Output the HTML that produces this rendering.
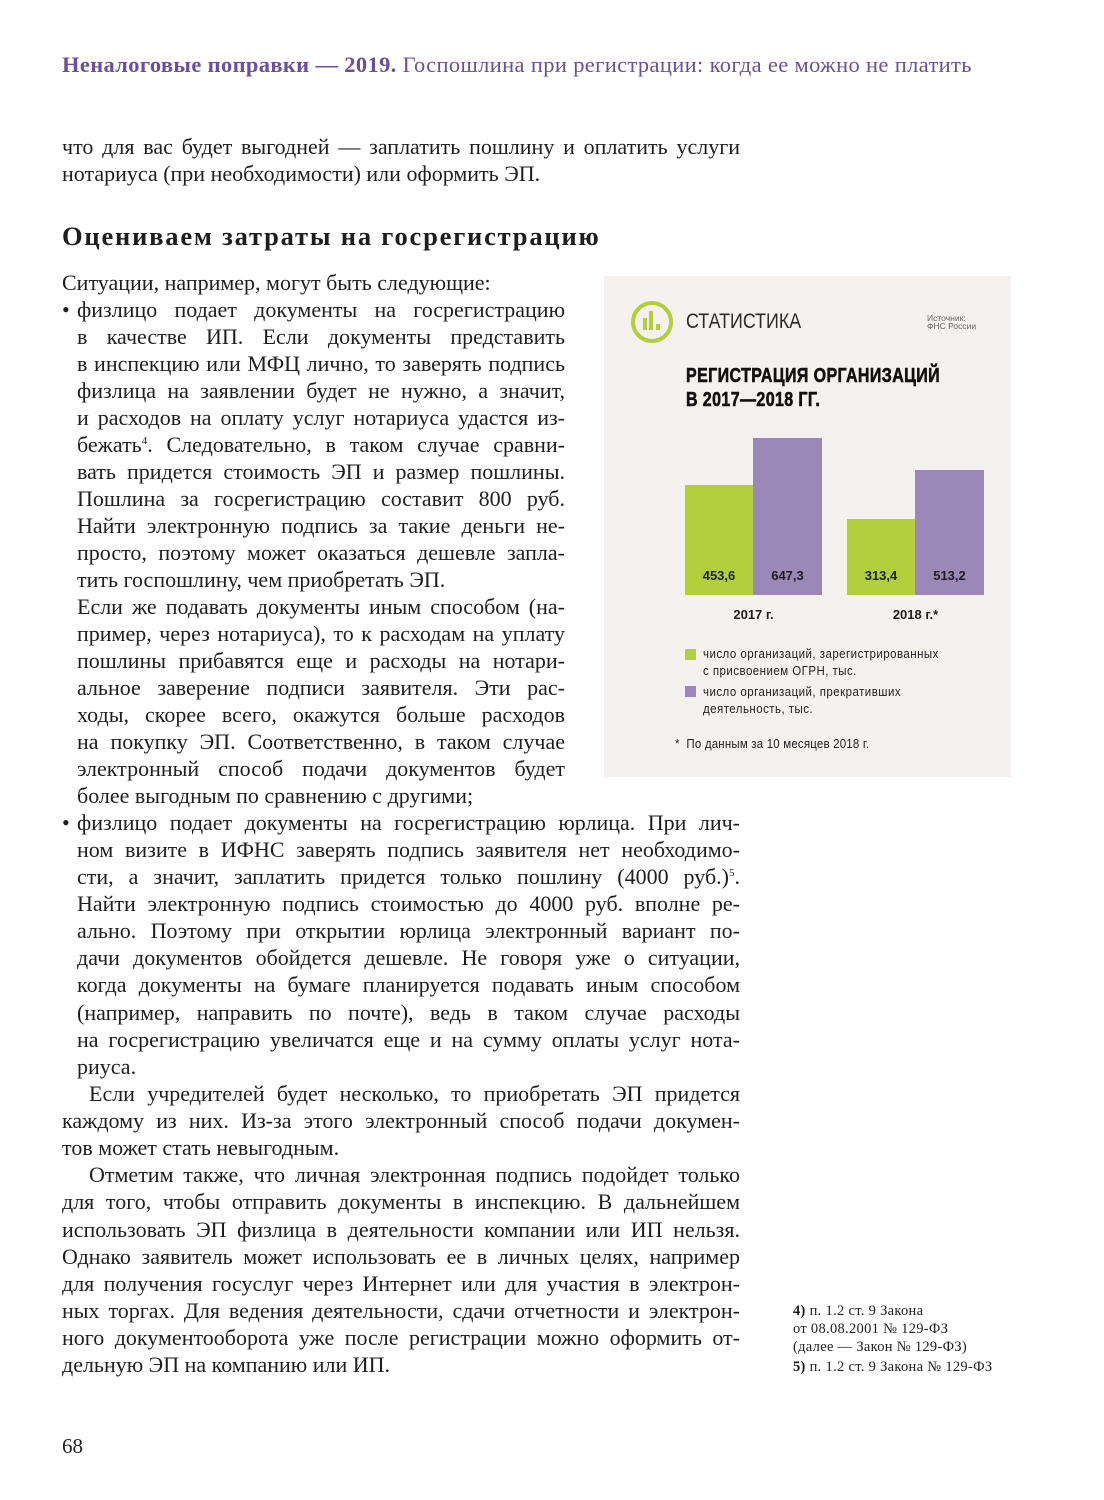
<!DOCTYPE html>
<html><head><meta charset="utf-8">
<style>
*{margin:0;padding:0}
body{width:1104px;height:1500px;background:#fff;position:relative;overflow:hidden;font-family:"Liberation Serif","DejaVu Serif",serif;color:#1e1e1e}
.l{position:absolute;height:27px;line-height:27px;font-size:22px;text-align:justify;text-align-last:justify;overflow:hidden;white-space:normal}
.e{text-align-last:left}
.w{left:62px;width:678px}
.n{left:77px;width:488px}
.m{left:77px;width:663px}
.b{position:absolute;left:62px;font-size:22px;line-height:27px}
.s{font-family:"Liberation Sans Narrow","Liberation Sans",sans-serif;position:absolute}
.sp{font-size:11px;position:relative;top:-8px;line-height:0}
</style></head><body>
<div style="position:absolute;left:62px;top:52px;font-size:22.5px;color:#6a4fa0;white-space:nowrap;letter-spacing:0.35px"><b>Неналоговые поправки — 2019.</b> Госпошлина при регистрации: когда ее можно не платить</div>

<div class="l w" style="top:133px">что для вас будет выгодней — заплатить пошлину и оплатить услуги</div>
<div class="l w e" style="top:160px">нотариуса (при необходимости) или оформить ЭП.</div>

<div style="position:absolute;left:62px;top:221px;font-size:26.5px;font-weight:bold;white-space:nowrap;letter-spacing:1.8px">Оцениваем затраты на госрегистрацию</div>

<div class="l w e" style="top:269px">Ситуации, например, могут быть следующие:</div>
<div class="b" style="top:296px">•</div>
<div class="l n" style="top:296px">физлицо подает документы на госрегистрацию</div>
<div class="l n" style="top:323px">в качестве ИП. Если документы представить</div>
<div class="l n" style="top:350px">в инспекцию или МФЦ лично, то заверять подпись</div>
<div class="l n" style="top:377px">физлица на заявлении будет не нужно, а значит,</div>
<div class="l n" style="top:404px">и расходов на оплату услуг нотариуса удастся из-</div>
<div class="l n" style="top:431px">бежать<span class="sp">4</span>. Следовательно, в таком случае сравни-</div>
<div class="l n" style="top:458px">вать придется стоимость ЭП и размер пошлины.</div>
<div class="l n" style="top:485px">Пошлина за госрегистрацию составит 800 руб.</div>
<div class="l n" style="top:512px">Найти электронную подпись за такие деньги не-</div>
<div class="l n" style="top:539px">просто, поэтому может оказаться дешевле запла-</div>
<div class="l n e" style="top:566px">тить госпошлину, чем приобретать ЭП.</div>
<div class="l n" style="top:593px">Если же подавать документы иным способом (на-</div>
<div class="l n" style="top:620px">пример, через нотариуса), то к расходам на уплату</div>
<div class="l n" style="top:647px">пошлины прибавятся еще и расходы на нотари-</div>
<div class="l n" style="top:674px">альное заверение подписи заявителя. Эти рас-</div>
<div class="l n" style="top:701px">ходы, скорее всего, окажутся больше расходов</div>
<div class="l n" style="top:728px">на покупку ЭП. Соответственно, в таком случае</div>
<div class="l n" style="top:755px">электронный способ подачи документов будет</div>
<div class="l n e" style="top:782px">более выгодным по сравнению с другими;</div>
<div class="b" style="top:809px">•</div>
<div class="l m" style="top:809px">физлицо подает документы на госрегистрацию юрлица. При лич-</div>
<div class="l m" style="top:836px">ном визите в ИФНС заверять подпись заявителя нет необходимо-</div>
<div class="l m" style="top:863px">сти, а значит, заплатить придется только пошлину (4000 руб.)<span class="sp">5</span>.</div>
<div class="l m" style="top:890px">Найти электронную подпись стоимостью до 4000 руб. вполне ре-</div>
<div class="l m" style="top:917px">ально. Поэтому при открытии юрлица электронный вариант по-</div>
<div class="l m" style="top:944px">дачи документов обойдется дешевле. Не говоря уже о ситуации,</div>
<div class="l m" style="top:971px">когда документы на бумаге планируется подавать иным способом</div>
<div class="l m" style="top:999px">(например, направить по почте), ведь в таком случае расходы</div>
<div class="l m" style="top:1026px">на госрегистрацию увеличатся еще и на сумму оплаты услуг нота-</div>
<div class="l m e" style="top:1053px">риуса.</div>
<div class="l" style="top:1080px;left:89px;width:651px">Если учредителей будет несколько, то приобретать ЭП придется</div>
<div class="l w" style="top:1107px">каждому из них. Из-за этого электронный способ подачи докумен-</div>
<div class="l w e" style="top:1134px">тов может стать невыгодным.</div>
<div class="l" style="top:1161px;left:89px;width:651px">Отметим также, что личная электронная подпись подойдет только</div>
<div class="l w" style="top:1188px">для того, чтобы отправить документы в инспекцию. В дальнейшем</div>
<div class="l w" style="top:1216px">использовать ЭП физлица в деятельности компании или ИП нельзя.</div>
<div class="l w" style="top:1243px">Однако заявитель может использовать ее в личных целях, например</div>
<div class="l w" style="top:1270px">для получения госуслуг через Интернет или для участия в электрон-</div>
<div class="l w" style="top:1297px">ных торгах. Для ведения деятельности, сдачи отчетности и электрон-</div>
<div class="l w" style="top:1324px">ного документооборота уже после регистрации можно оформить от-</div>
<div class="l w e" style="top:1351px">дельную ЭП на компанию или ИП.</div>

<div style="position:absolute;left:793px;top:1302px;font-size:14.5px;line-height:18px;white-space:nowrap;letter-spacing:0.3px"><b>4)</b> п. 1.2 ст. 9 Закона<br>от 08.08.2001 № 129-ФЗ<br>(далее — Закон № 129-ФЗ)<br><div style="margin-top:2px"><b>5)</b> п. 1.2 ст. 9 Закона № 129-ФЗ</div></div>

<div style="position:absolute;left:62px;top:1434px;font-size:21px">68</div>

<!-- stats box -->
<div style="position:absolute;left:604px;top:276px;width:407px;height:501px;background:#f4f1ee"></div>
<div style="position:absolute;left:631px;top:301px;width:34px;height:34px;border:4px solid #b2cf3b;border-radius:50%"></div>
<div style="position:absolute;left:643px;top:318px;width:4px;height:12px;background:#b2cf3b"></div>
<div style="position:absolute;left:649px;top:311px;width:4px;height:19px;background:#b2cf3b"></div>
<div style="position:absolute;left:656px;top:324px;width:4px;height:6px;background:#b2cf3b"></div>
<div class="s" style="left:686px;top:310px;font-size:21px;color:#2a2a2a;transform:scaleX(0.85);transform-origin:left">СТАТИСТИКА</div>
<div class="s" style="left:927px;top:314px;font-size:8.5px;line-height:8px;color:#666">Источник:<br>ФНС России</div>
<div class="s" style="left:686px;top:364px;font-size:20px;line-height:24px;font-weight:bold;color:#111;transform:scaleX(0.8);transform-origin:left;white-space:nowrap;letter-spacing:0.5px;-webkit-text-stroke:0.6px #111">РЕГИСТРАЦИЯ ОРГАНИЗАЦИЙ<br>В 2017—2018 ГГ.</div>

<div style="position:absolute;left:685px;top:485px;width:68px;height:110px;background:#b2cf3b"></div>
<div style="position:absolute;left:753px;top:438px;width:69px;height:157px;background:#9c87b9"></div>
<div style="position:absolute;left:847px;top:519px;width:68px;height:76px;background:#b2cf3b"></div>
<div style="position:absolute;left:915px;top:470px;width:69px;height:125px;background:#9c87b9"></div>
<div class="s" style="left:685px;top:568px;width:68px;text-align:center;font-size:13px;font-weight:bold">453,6</div>
<div class="s" style="left:753px;top:568px;width:69px;text-align:center;font-size:13px;font-weight:bold">647,3</div>
<div class="s" style="left:847px;top:568px;width:68px;text-align:center;font-size:13px;font-weight:bold">313,4</div>
<div class="s" style="left:915px;top:568px;width:69px;text-align:center;font-size:13px;font-weight:bold">513,2</div>
<div class="s" style="left:685px;top:607px;width:137px;text-align:center;font-size:13px;font-weight:bold">2017 г.</div>
<div class="s" style="left:847px;top:607px;width:137px;text-align:center;font-size:13px;font-weight:bold">2018 г.*</div>

<div style="position:absolute;left:685px;top:649px;width:11px;height:11px;background:#b2cf3b"></div>
<div class="s" style="left:703px;top:646px;font-size:12.5px;line-height:17px;color:#222;transform:scaleX(0.92);transform-origin:left;white-space:nowrap;letter-spacing:0.5px">число организаций, зарегистрированных<br>с присвоением ОГРН, тыс.</div>
<div style="position:absolute;left:685px;top:686px;width:11px;height:11px;background:#9c87b9"></div>
<div class="s" style="left:703px;top:684px;font-size:12.5px;line-height:17px;color:#222;transform:scaleX(0.92);transform-origin:left;white-space:nowrap;letter-spacing:0.5px">число организаций, прекративших<br>деятельность, тыс.</div>
<div class="s" style="left:675px;top:737px;font-size:12.5px;color:#222;transform:scaleX(0.92);transform-origin:left;white-space:nowrap;letter-spacing:0.2px">*&nbsp; По данным за 10 месяцев 2018 г.</div>
</body></html>
